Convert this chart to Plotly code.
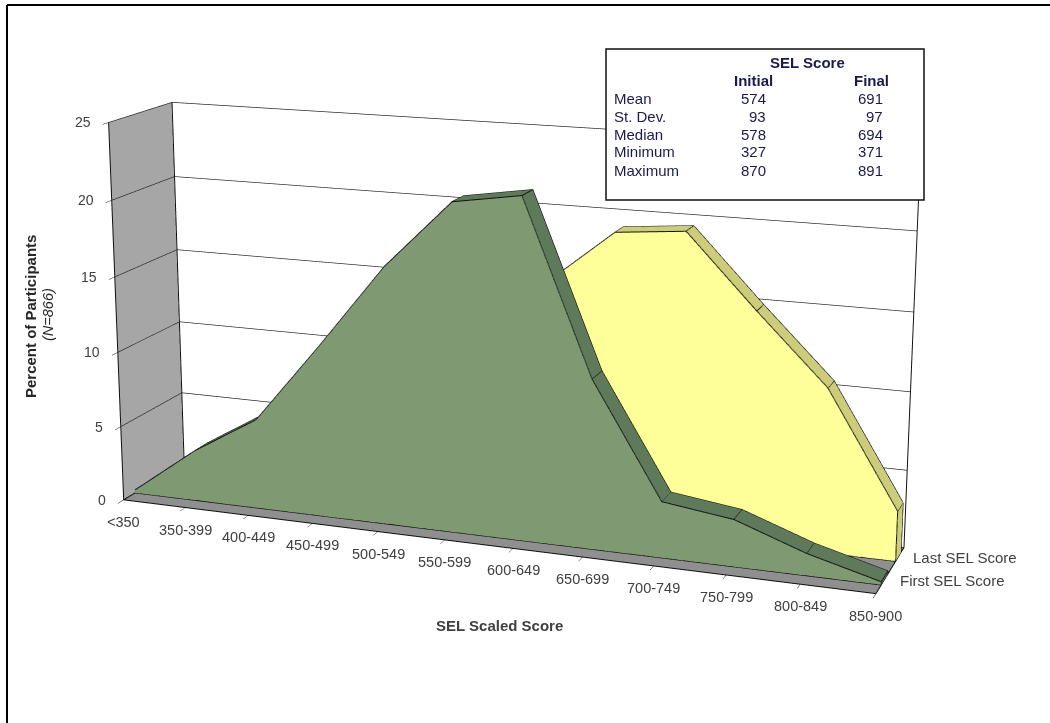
import plotly.graph_objects as go

# Score bands along the horizontal axis
categories = ["<350", "350-399", "400-449", "450-499", "500-549", "550-599",
              "600-649", "650-699", "700-749", "750-799", "800-849", "850-900"]
# Percent of participants in each band
first_score = [0.2, 3.4, 6.0, 11.3, 16.8, 21.2, 21.9, 10.9, 3.6, 3.0, 1.4, 0.2]
last_score = [0.1, 0.2, 0.9, 2.2, 4.3, 8.9, 15.5, 19.1, 19.5, 14.9, 10.5, 3.2]
series_names = ["First SEL Score", "Last SEL Score"]
value_ticks = [0, 5, 10, 15, 20, 25]

# Summary statistics box
stat_names = ["Mean", "St. Dev.", "Median", "Minimum", "Maximum"]
stat_initial = [574, 93, 578, 327, 870]
stat_final = [691, 97, 694, 371, 891]

# The scene's field of view is fixed, so a long-lens look needs a scene taller
# than the visible page; the plot is lifted by LIFT pixels once it is drawn.
PAGE_W = 1050
PAGE_H = 1988
SCENE_W = 1013
LIFT = 696

FONT = "Liberation Sans, Arial, sans-serif"
AXIS_TEXT = "#404040"
TABLE_TEXT = "#1A1A4D"

xs = list(range(len(categories)))


def band_mesh(values, y0, y1, front, side):
    """Extruded area: front face, sloped top strip and closing end face."""
    n = len(values)
    X, Y, Z, I, J, K, C = [], [], [], [], [], [], []
    for x, v in zip(xs, values):
        X += [x, x, x, x]
        Y += [y0, y0, y1, y1]
        Z += [0, v, 0, v]

    def quad(a, b, c, d, color):
        I.extend([a, a])
        J.extend([b, c])
        K.extend([c, d])
        C.extend([color, color])

    for i in range(n - 1):
        a = 4 * i
        b = a + 4
        quad(a, b, b + 1, a + 1, front)
        quad(a + 1, b + 1, b + 3, a + 3, side)
    last = 4 * (n - 1)
    quad(last, last + 1, last + 3, last + 2, side)
    return go.Mesh3d(
        x=X, y=Y, z=Z, i=I, j=J, k=K, facecolor=C, flatshading=True,
        lighting=dict(ambient=1, diffuse=0, specular=0, fresnel=0, roughness=1),
        hoverinfo="skip", showscale=False,
    )


def polyline_trace(strokes, width=2):
    X, Y, Z = [], [], []
    for stroke in strokes:
        for p in stroke:
            X.append(p[0]); Y.append(p[1]); Z.append(p[2])
        X.append(None); Y.append(None); Z.append(None)
    return go.Scatter3d(x=X, y=Y, z=Z, mode="lines",
                        line=dict(color="#111111", width=width),
                        hoverinfo="skip", showlegend=False, connectgaps=False)


def band_edges(values, y0, y1):
    """Outline of an extruded area."""
    strokes = [[(x, y0, v) for x, v in zip(xs, values)],
               [(x, y1, v) for x, v in zip(xs, values)],
               [(x, y0, 0) for x in xs]]
    strokes += [[(x, y0, v), (x, y1, v)] for x, v in zip(xs, values)]
    strokes.append([(xs[-1], y0, 0), (xs[-1], y0, values[-1])])
    strokes.append([(xs[-1], y0, 0), (xs[-1], y1, 0), (xs[-1], y1, values[-1])])
    return polyline_trace(strokes)


def box_edges():
    xl, xr, zt = xs[0], xs[-1], value_ticks[-1]
    return polyline_trace([[(xl, 0, 0), (xl, 0, zt)], [(xl, 1, 0), (xl, 1, zt)],
                           [(xr, 1, 0), (xr, 1, zt)], [(xl, 0, 0), (xr, 0, 0)],
                           [(xr, 0, 0), (xr, 1, 0)], [(xl, 0, 0), (xl, 1, 0)]], width=2)


GREEN_PLANE = (0.18, 0.41)
YELLOW_PLANE = (0.69, 0.89)

fig = go.Figure()
fig.add_trace(box_edges())
fig.add_trace(band_mesh(last_score, *YELLOW_PLANE, "#FFFF99", "#CCCC7A"))
fig.add_trace(band_edges(last_score, *YELLOW_PLANE))
fig.add_trace(band_mesh(first_score, *GREEN_PLANE, "#7F9A72", "#5F7A5A"))
fig.add_trace(band_edges(first_score, *GREEN_PLANE))

scene_notes = []
for x, label in zip(xs, categories):
    scene_notes.append(dict(x=x, y=0, z=0, text=label, showarrow=False,
                            yshift=-22, font=dict(family=FONT, size=14.5, color=AXIS_TEXT)))
for z in value_ticks:
    scene_notes.append(dict(x=0, y=0, z=z, text=str(z), showarrow=False, xanchor="right",
                            xshift=-16, font=dict(family=FONT, size=14, color=AXIS_TEXT)))
for name, plane in zip(series_names, (GREEN_PLANE, YELLOW_PLANE)):
    scene_notes.append(dict(x=xs[-1], y=sum(plane) / 2, z=0, text=name, showarrow=False,
                            xanchor="left", xshift=13, yshift=-1,
                            font=dict(family=FONT, size=15, color=AXIS_TEXT)))


def axis(**kw):
    base = dict(title="", showspikes=False, zeroline=False, showticklabels=False,
                showline=False, showgrid=False, showbackground=True, autorange=False)
    base.update(kw)
    return base


fig.update_layout(
    width=PAGE_W, height=PAGE_H, autosize=False,
    margin=dict(l=0, r=0, t=0, b=0), paper_bgcolor="white", showlegend=False,
    scene=dict(
        domain=dict(x=[0, SCENE_W / PAGE_W], y=[0, 1]),
        aspectmode="manual", aspectratio=dict(x=1.990, y=0.339, z=1),
        camera=dict(eye=dict(x=2.007, y=-5.436, z=1.514),
                    center=dict(x=-0.116, y=0.346, z=0),
                    up=dict(x=0, y=0, z=1),
                    projection=dict(type="perspective")),
        xaxis=axis(range=[xs[0], xs[-1]], tickvals=xs, ticks="outside", ticklen=3,
                   tickcolor="#111111", backgroundcolor="#A6A6A6"),
        yaxis=axis(range=[0, 1], backgroundcolor="white", tickvals=[]),
        zaxis=axis(range=[value_ticks[0], value_ticks[-1]], tickvals=value_ticks,
                   ticks="outside", ticklen=3, tickcolor="#111111",
                   showgrid=True, gridcolor="#222222", gridwidth=1.4,
                   backgroundcolor="#8F8F8F"),
        annotations=scene_notes,
    ),
)


def px(x):
    return x / PAGE_W


def py(y):
    return 1 - (y + LIFT) / PAGE_H


def note(x, y, text, size=15, color=TABLE_TEXT, anchor="left", **kw):
    fig.add_annotation(xref="paper", yref="paper", x=px(x), y=py(y), text=text,
                       showarrow=False, xanchor=anchor, yanchor="middle",
                       font=dict(family=FONT, size=size, color=color), **kw)


# Frame lines along the top and left edge
line_style = dict(color="black", width=2)
fig.add_shape(type="line", xref="paper", yref="paper", x0=px(7), x1=px(PAGE_W),
              y0=py(5), y1=py(5), line=line_style, layer="above")
fig.add_shape(type="line", xref="paper", yref="paper", x0=px(7), x1=px(7),
              y0=py(5), y1=py(723), line=line_style, layer="above")

# Statistics box
fig.add_shape(type="rect", xref="paper", yref="paper", x0=px(606), x1=px(924),
              y0=py(49), y1=py(200), fillcolor="white",
              line=dict(color="#111111", width=1.5), layer="above")
note(807, 63, "<b>SEL Score</b>", anchor="center")
note(753, 80, "<b>Initial</b>", anchor="center")
note(871, 80, "<b>Final</b>", anchor="center")
for row_y, name, a, b in zip([98, 116, 134, 151, 170], stat_names, stat_initial, stat_final):
    note(612, row_y, name)
    note(768, row_y, str(a), anchor="right")
    note(885, row_y, str(b), anchor="right")

# Axis titles
note(499, 625, "<b>SEL Scaled Score</b>", color=AXIS_TEXT, anchor="center")
note(30, 317, "<b>Percent of Participants</b>", color="#262626", anchor="center", textangle=-90)
note(48, 315, "<i>(N=866)</i>", size=14.5, color="#262626", anchor="center", textangle=-90)

lift_script = ("document.getElementById('{plot_id}').style.marginTop='-%dpx';"
               "document.documentElement.style.overflow='hidden';") % LIFT
fig.write_html("out.html", config=dict(displayModeBar=False), post_script=lift_script)
